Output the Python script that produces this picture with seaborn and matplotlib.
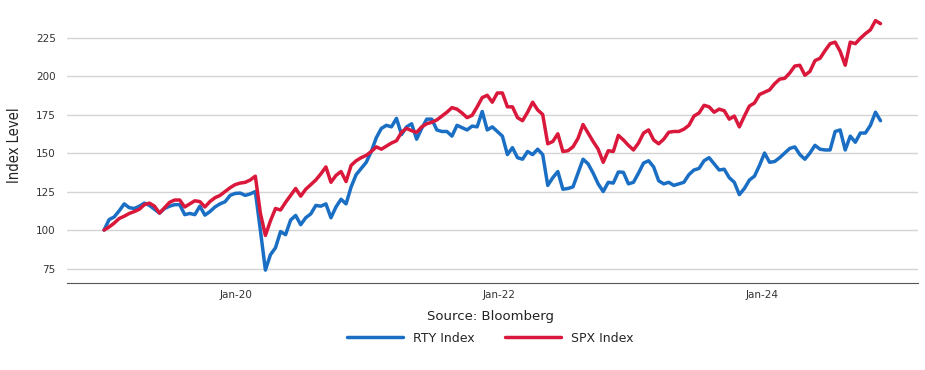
import matplotlib
matplotlib.use("Agg")
import matplotlib.pyplot as plt
import matplotlib.dates as mdates
import seaborn as sns
import pandas as pd

# fortnightly observations, both indices rebased to 100 at the start
start_date = "2018-12-31"
step = "14D"

rty_values = [
    100, 106.8, 108.5, 112.5, 117, 114.5, 114, 115.5, 117.5, 116,
    113.5, 111, 114, 115.5, 116.5, 116.5, 110, 110.8, 110, 115.5,
    109.7, 112, 115, 117, 118.4, 122.5, 123.8, 124, 122.5, 123.5,
    125, 100, 74, 84, 88.5, 99, 97, 106.5, 109.5, 103.5,
    108, 110.5, 116, 115.5, 117, 108, 115, 120, 117, 128,
    136, 140, 144, 151, 160, 166, 168, 167, 172.5, 162,
    167, 169, 159, 166, 172, 172, 165, 164, 164, 161,
    168, 166.5, 165, 167.5, 167, 177, 165, 167, 164, 161,
    149, 153.5, 147, 146, 151, 149, 152.5, 149, 129, 134,
    138, 126.5, 127, 128, 137, 146, 143, 137, 130, 125,
    131, 130.5, 137.7, 137.5, 130, 131, 137, 143.5, 145, 141,
    132, 130, 131, 129, 130, 131, 136, 139, 140, 145,
    147, 143, 139, 139.5, 134, 131, 123, 127, 132.5, 135,
    142, 150, 144, 144.5, 147, 150, 153, 154, 149, 146,
    150, 155, 152.5, 152, 152, 164, 165, 152, 161, 157,
    163, 163, 168, 176.5, 171,
]

spx_values = [
    100, 102, 104.5, 107.5, 109, 110.8, 112, 113.5, 116.5, 117.5,
    115.5, 111, 114.5, 118, 119.5, 119.5, 115, 117, 119, 118.5,
    115, 118.5, 121, 122.5, 125, 127.5, 129.5, 130.5, 131, 132.5,
    135, 111, 96.5, 106, 114, 113, 118, 122.5, 127, 122,
    126.5, 129.5, 132.5, 136.5, 141, 131, 135.5, 138, 131.5, 142,
    145, 147, 148.5, 151, 154, 152.5, 154.5, 156.5, 158, 163.5,
    166, 164.5, 163.5, 167, 169, 170, 171.5, 174, 176.5, 179.5,
    178.5, 176, 173, 174.5, 180, 186, 187.5, 183, 189, 189,
    180, 180, 173, 171, 176.5, 183, 178, 175, 156, 157.5,
    162.5, 151, 151.5, 154, 159.5, 168.5, 163, 157.5, 152.5, 144,
    151.5, 151, 161.5, 158.5, 155, 152, 156.5, 163, 165, 158.5,
    156, 159, 163.5, 164, 164, 165.5, 168, 174, 176, 181,
    180, 176.5, 178.5, 177.5, 172, 174, 167, 174, 180.5, 182.5,
    188, 189.5, 191, 195, 198, 198.5, 202, 206.5, 207, 200.5,
    203, 210, 211.5, 216.5, 221, 222, 216, 207, 222, 221,
    224.5, 227.5, 230, 236, 234,
]

series_names = ["RTY Index", "SPX Index"]
series_colors = ["#1a6fc4", "#d9183b"]
y_ticks = [75, 100, 125, 150, 175, 200, 225]

dates = pd.date_range(start_date, periods=len(rty_values), freq=step)
df = pd.concat([
    pd.DataFrame({"Date": dates, "Level": rty_values, "Index": series_names[0]}),
    pd.DataFrame({"Date": dates, "Level": spx_values, "Index": series_names[1]}),
])

sns.set_style("white")
plt.rcParams["font.family"] = ["DejaVu Sans"]

fig = plt.figure(figsize=(9.25, 3.7), dpi=100)
ax = fig.add_axes([0.0724, 0.235, 0.92, 0.751])

sns.lineplot(data=df, x="Date", y="Level", hue="Index",
             palette=dict(zip(series_names, series_colors)),
             linewidth=2.5, ax=ax, legend=False)

ax.set_xlim(pd.Timestamp("2018-09-19"), pd.Timestamp("2025-03-09"))
ax.set_ylim(65.6, 246)
ax.set_yticks(y_ticks)
ax.xaxis.set_major_locator(mdates.YearLocator(base=2, month=1, day=1))
ax.xaxis.set_major_formatter(mdates.DateFormatter("%b-%y"))

ax.grid(axis="y", color="#d4d4d4", linewidth=1)
ax.set_axisbelow(True)
for side in ["left", "right", "top"]:
    ax.spines[side].set_visible(False)
ax.spines["bottom"].set_color("#555555")
ax.tick_params(axis="x", length=3, color="#555555", labelsize=7.5,
               labelcolor="#333333", pad=2)
ax.tick_params(axis="y", length=0, labelsize=7.5, labelcolor="#333333", pad=8)
ax.set_xlabel("")
ax.set_ylabel("")

fig.text(0.016, 0.608, "Index Level", rotation=90, va="center", ha="center",
         fontsize=10.5, color="#222222", fontstretch="condensed")
fig.text(0.53, 0.145, "Source: Bloomberg", ha="center", va="center",
         fontsize=9.5, color="#222222")

handles = [plt.Line2D([], [], color=c, linewidth=2.5) for c in series_colors]
fig.legend(handles, series_names, loc="center", bbox_to_anchor=(0.53, 0.086),
           ncol=2, frameon=False, fontsize=9, handlelength=4.5,
           columnspacing=2.4, handletextpad=0.8)

fig.savefig("out.png", dpi=100)
plt.close(fig)
